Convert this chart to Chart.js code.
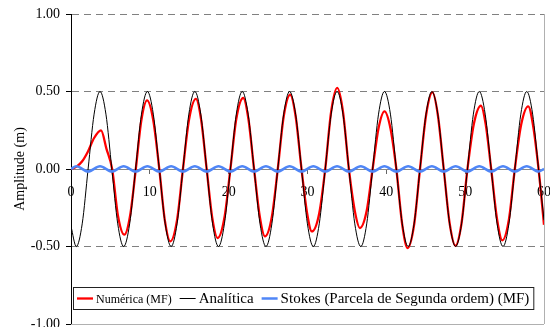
<!DOCTYPE html>
<html>
<head>
<meta charset="utf-8">
<script src="https://cdn.jsdelivr.net/npm/chart.js@4.4.0/dist/chart.umd.min.js"></script>
<style>
  html, body { margin: 0; padding: 0; background: #fff; }
  #wave-chart { display: block; }
</style>
</head>
<body>
<canvas id="wave-chart" width="550" height="327"></canvas>
<script>
// axis ticks
const xTicks = [0, 10, 20, 30, 40, 50, 60];
const yTicks = [-1, -0.5, 0, 0.5, 1];

const seriesNames = ['Numérica (MF)', 'Analítica', 'Stokes (Parcela de Segunda ordem) (MF)'];

// Numérica (MF) (time, amplitude)
const numTime = [0, 0.7, 1.42, 2.17, 2.93, 3.81, 4.5, 5.22,
  5.95, 6.77, 7.5, 8.22,
  8.92, 9.65, 10.44, 11.2,
  11.9, 12.6, 13.45, 14.2,
  14.98, 15.85, 16.5, 17.21,
  17.92, 18.6, 19.46, 20.22,
  20.97, 21.85, 22.5, 23.22,
  23.95, 24.6, 25.48, 26.23,
  26.98, 27.8, 28.5, 29.24,
  29.95, 30.55, 31.49, 32.25,
  33.0, 33.77, 34.5, 35.25,
  36.0, 36.65, 37.51, 38.26,
  39.01, 39.77, 40.52, 41.27,
  42.02, 42.7, 43.52, 44.27,
  45.05, 45.85, 46.53, 47.28,
  48.03, 48.77, 49.54, 50.29,
  51.1, 52.0, 52.6, 53.3,
  54.05, 54.72, 55.55, 56.3,
  57.1, 58.0, 58.6, 59.31, 60];
const numAmp = [0, 0.015, 0.05, 0.115, 0.2, 0.249, 0.13, 0,
  -0.30, -0.424, -0.30, 0,
  0.313, 0.443, 0.313, 0,
  -0.33, -0.467, -0.33, 0,
  0.32, 0.452, 0.32, 0,
  -0.315, -0.445, -0.315, 0,
  0.324, 0.458, 0.324, 0,
  -0.308, -0.435, -0.308, 0,
  0.339, 0.479, 0.339, 0,
  -0.285, -0.403, -0.285, 0,
  0.37, 0.523, 0.37, 0,
  -0.27, -0.381, -0.27, 0,
  0.263, 0.372, 0.263, 0,
  -0.36, -0.51, -0.36, 0,
  0.35, 0.494, 0.35, 0,
  -0.35, -0.495, -0.35, 0,
  0.29, 0.408, 0.29, 0,
  -0.325, -0.46, -0.325, 0,
  0.285, 0.404, 0.285, 0, -0.36];

// Analítica
const anaTime = [0,
  0.67, 1.42, 2.17, 2.93, 3.68, 4.43, 5.18, 5.93,
  6.68, 7.44, 8.19, 8.94, 9.69, 10.44, 11.20, 11.95,
  12.70, 13.45, 14.20, 14.95, 15.71, 16.46, 17.21, 17.96,
  18.71, 19.46, 20.22, 20.97, 21.72, 22.47, 23.22, 23.98,
  24.73, 25.48, 26.23, 26.98, 27.73, 28.49, 29.24, 29.99,
  30.74, 31.49, 32.25, 33.00, 33.75, 34.50, 35.25, 36.00,
  36.76, 37.51, 38.26, 39.01, 39.76, 40.52, 41.27, 42.02,
  42.77, 43.52, 44.27, 45.03, 45.78, 46.53, 47.28, 48.03,
  48.79, 49.54, 50.29, 51.04, 51.79, 52.54, 53.30, 54.05,
  54.80, 55.55, 56.30, 57.06, 57.81, 58.56, 59.31,
  60];
const anaAmp = [-0.37,
  -0.5, -0.354, 0, 0.354, 0.5, 0.354, 0, -0.354,
  -0.5, -0.354, 0, 0.354, 0.5, 0.354, 0, -0.354,
  -0.5, -0.354, 0, 0.354, 0.5, 0.354, 0, -0.354,
  -0.5, -0.354, 0, 0.354, 0.5, 0.354, 0, -0.354,
  -0.5, -0.354, 0, 0.354, 0.5, 0.354, 0, -0.354,
  -0.5, -0.354, 0, 0.354, 0.5, 0.354, 0, -0.354,
  -0.5, -0.354, 0, 0.354, 0.5, 0.354, 0, -0.354,
  -0.5, -0.354, 0, 0.354, 0.5, 0.354, 0, -0.354,
  -0.5, -0.354, 0, 0.354, 0.5, 0.354, 0, -0.354,
  -0.5, -0.354, 0, 0.354, 0.5, 0.354, 0,
  -0.33];

// Stokes, second order part
const stokesTime = [0, 0.67, 2.17, 3.68, 5.18, 6.68, 8.19, 9.69, 11.20,
  12.70, 14.20, 15.71, 17.21, 18.71, 20.22, 21.72, 23.22,
  24.73, 26.23, 27.73, 29.24, 30.74, 32.25, 33.75, 35.25,
  36.76, 38.26, 39.76, 41.27, 42.77, 44.27, 45.78, 47.28,
  48.79, 50.29, 51.79, 53.30, 54.80, 56.30, 57.81, 59.31, 60];
const stokesAmp = [0, 0.018, -0.016, 0.018, -0.016, 0.018, -0.016, 0.018, -0.016,
  0.018, -0.016, 0.018, -0.016, 0.018, -0.016, 0.018, -0.016,
  0.018, -0.016, 0.018, -0.016, 0.018, -0.016, 0.018, -0.016,
  0.018, -0.016, 0.018, -0.016, 0.018, -0.016, 0.018, -0.016,
  0.018, -0.016, 0.018, -0.016, 0.018, -0.016, 0.018, -0.016, 0];

const pairs = (xs, ys) => xs.map((x, i) => ({ x: x, y: ys[i] }));

const serif = 'Liberation Serif, Times New Roman, serif';
const legendSizes = [12, 15, 15];

// plot frame (right/bottom) + excel-like legend box
const framePlugin = {
  id: 'frame',
  afterDraw(chart) {
    const ctx = chart.ctx;
    const a = chart.chartArea;
    ctx.save();
    ctx.strokeStyle = '#b0b0b0';
    ctx.lineWidth = 1;
    ctx.beginPath();
    ctx.moveTo(Math.round(a.right) + 0.5, a.top);
    ctx.lineTo(Math.round(a.right) + 0.5, a.bottom);
    ctx.moveTo(a.left, Math.round(a.bottom) + 0.5);
    ctx.lineTo(a.right, Math.round(a.bottom) + 0.5);
    ctx.stroke();

    const left = 73, top = 287, h = 22;
    const sample = 16, gapIn = 3, gapOut = 8;
    const widths = chart.data.datasets.map((ds, i) => {
      ctx.font = legendSizes[i] + 'px ' + serif;
      return ctx.measureText(ds.label).width;
    });
    let total = 4;
    widths.forEach(w => { total += sample + gapIn + w + gapOut; });
    total = total - gapOut + 4;

    ctx.fillStyle = '#fff';
    ctx.fillRect(left, top, total, h);
    ctx.strokeStyle = '#222';
    ctx.strokeRect(left + 0.5, top + 0.5, total, h);

    let x = left + 4;
    const cy = top + h / 2 + 0.5;
    chart.data.datasets.forEach((ds, i) => {
      ctx.strokeStyle = ds.borderColor;
      ctx.lineWidth = ds.borderWidth;
      ctx.beginPath();
      ctx.moveTo(x, cy);
      ctx.lineTo(x + sample, cy);
      ctx.stroke();
      x += sample + gapIn;
      ctx.font = legendSizes[i] + 'px ' + serif;
      ctx.fillStyle = '#000';
      ctx.textBaseline = 'middle';
      ctx.textAlign = 'left';
      ctx.fillText(ds.label, x, cy + 1);
      x += widths[i] + gapOut;
    });
    ctx.restore();
  }
};

const ctx = document.getElementById('wave-chart');

new Chart(ctx, {
  type: 'line',
  data: {
    datasets: [{
      label: seriesNames[0],
      data: pairs(numTime, numAmp),
      borderColor: '#ff0000',
      borderWidth: 2.3,
      order: 3
    }, {
      label: seriesNames[1],
      data: pairs(anaTime, anaAmp),
      borderColor: '#000000',
      borderWidth: 1,
      order: 2
    }, {
      label: seriesNames[2],
      data: pairs(stokesTime, stokesAmp),
      borderColor: '#4f86f7',
      borderWidth: 2.5,
      order: 1
    }]
  },
  options: {
    responsive: false,
    animation: false,
    devicePixelRatio: 1,
    layout: { padding: { left: 0, top: 14, right: 6, bottom: 3 } },
    elements: {
      point: { radius: 0 },
      line: { cubicInterpolationMode: 'monotone' }
    },
    plugins: {
      legend: { display: false },
      tooltip: { enabled: false }
    },
    scales: {
      x: {
        type: 'linear',
        min: 0,
        max: 60,
        position: { y: 0 },
        afterBuildTicks: s => { s.ticks = xTicks.map(v => ({ value: v })); },
        afterFit: s => { s.paddingLeft = 0; s.paddingRight = 0; },
        ticks: { color: '#000', font: { family: serif, size: 14 }, padding: 11, maxRotation: 0, autoSkip: false },
        grid: { drawOnChartArea: false, tickLength: 4, tickColor: '#666' },
        border: { color: '#888' }
      },
      y: {
        min: -1,
        max: 1,
        afterBuildTicks: s => { s.ticks = yTicks.map(v => ({ value: v })); },
        afterFit: s => { s.width = 71; s.paddingTop = 0; s.paddingBottom = 0; },
        ticks: {
          color: '#000',
          font: { family: serif, size: 14 },
          padding: 6,
          callback: v => v.toFixed(2)
        },
        grid: {
          color: c => (c.tick && (c.tick.value === 0 || c.tick.value === -1)) ? 'rgba(0,0,0,0)' : '#808080',
          tickColor: '#000',
          tickLength: 5
        },
        border: { color: '#000', dash: [7, 5] },
        title: {
          display: true,
          text: 'Amplitude (m)',
          color: '#000',
          font: { family: serif, size: 14 },
          padding: { top: 12, bottom: 0 }
        }
      }
    }
  },
  plugins: [framePlugin]
});
</script>
</body>
</html>
